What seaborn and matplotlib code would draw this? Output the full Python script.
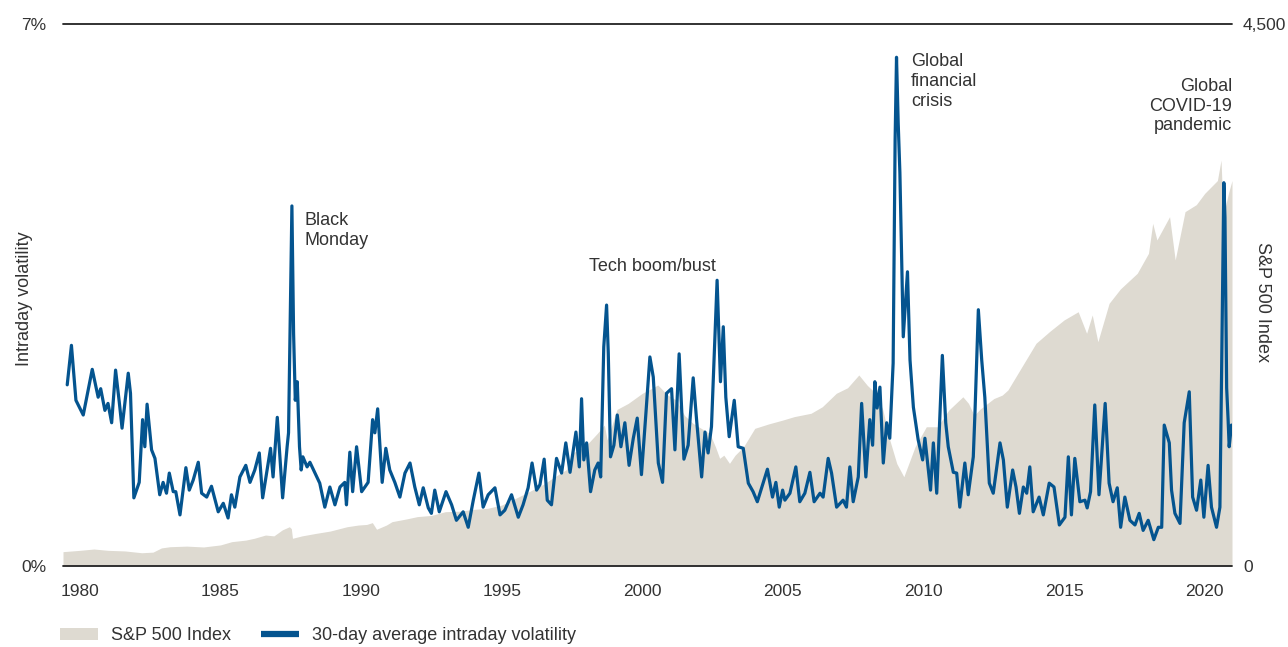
import matplotlib
matplotlib.use("Agg")
import matplotlib.pyplot as plt
import seaborn as sns
from matplotlib.patches import Patch
from matplotlib.lines import Line2D
from matplotlib.ticker import FixedLocator

# ---------------- data ----------------
vol_year = [
    1979.55, 1979.70, 1979.86, 1980.12, 1980.44, 1980.65, 1980.74, 1980.89, 1981.00, 1981.13,
    1981.27, 1981.40, 1981.50, 1981.64, 1981.72, 1981.80, 1981.92, 1982.11, 1982.23, 1982.31,
    1982.39, 1982.55, 1982.67, 1982.84, 1982.96, 1983.08, 1983.18, 1983.32, 1983.41, 1983.56,
    1983.77, 1983.89, 1984.03, 1984.21, 1984.33, 1984.51, 1984.68, 1984.92, 1985.10, 1985.27,
    1985.39, 1985.51, 1985.69, 1985.90, 1986.05, 1986.22, 1986.38, 1986.50, 1986.64, 1986.78,
    1986.87, 1987.02, 1987.21, 1987.37, 1987.42, 1987.48, 1987.54, 1987.60, 1987.64, 1987.66,
    1987.73, 1987.81, 1987.87, 1987.93, 1988.08, 1988.18, 1988.36, 1988.53, 1988.71, 1988.89,
    1989.07, 1989.25, 1989.42, 1989.48, 1989.60, 1989.70, 1989.84, 1990.02, 1990.25, 1990.41,
    1990.49, 1990.59, 1990.75, 1990.88, 1991.02, 1991.20, 1991.38, 1991.56, 1991.74, 1991.91,
    1992.07, 1992.21, 1992.39, 1992.50, 1992.62, 1992.78, 1993.02, 1993.22, 1993.39, 1993.63,
    1993.81, 1993.99, 1994.19, 1994.34, 1994.52, 1994.76, 1994.94, 1995.11, 1995.35, 1995.59,
    1995.76, 1995.94, 1996.08, 1996.24, 1996.36, 1996.51, 1996.62, 1996.77, 1996.95, 1997.13,
    1997.28, 1997.43, 1997.64, 1997.76, 1997.84, 1997.92, 1998.02, 1998.16, 1998.31, 1998.43,
    1998.52, 1998.63, 1998.73, 1998.79, 1998.87, 1998.99, 1999.11, 1999.24, 1999.38, 1999.53,
    1999.68, 1999.82, 1999.97, 2000.13, 2000.27, 2000.39, 2000.57, 2000.72, 2000.86, 2001.04,
    2001.16, 2001.31, 2001.48, 2001.63, 2001.81, 2001.93, 2002.11, 2002.23, 2002.34, 2002.46,
    2002.66, 2002.78, 2002.88, 2002.97, 2003.09, 2003.27, 2003.41, 2003.59, 2003.77, 2003.94,
    2004.09, 2004.28, 2004.45, 2004.63, 2004.75, 2004.87, 2004.99, 2005.07, 2005.25, 2005.46,
    2005.60, 2005.78, 2005.96, 2006.11, 2006.32, 2006.43, 2006.61, 2006.73, 2006.91, 2007.14,
    2007.26, 2007.38, 2007.50, 2007.68, 2007.80, 2007.95, 2008.09, 2008.19, 2008.27, 2008.35,
    2008.45, 2008.57, 2008.69, 2008.80, 2008.92, 2008.99, 2009.04, 2009.10, 2009.16, 2009.28,
    2009.43, 2009.52, 2009.64, 2009.81, 2009.97, 2010.05, 2010.25, 2010.35, 2010.47, 2010.67,
    2010.79, 2010.88, 2011.06, 2011.18, 2011.29, 2011.47, 2011.59, 2011.77, 2011.83, 2011.95,
    2012.07, 2012.18, 2012.34, 2012.48, 2012.72, 2012.84, 2012.98, 2013.17, 2013.29, 2013.41,
    2013.55, 2013.67, 2013.78, 2013.90, 2014.11, 2014.26, 2014.47, 2014.64, 2014.83, 2015.03,
    2015.15, 2015.26, 2015.38, 2015.56, 2015.74, 2015.82, 2015.94, 2016.09, 2016.24, 2016.46,
    2016.60, 2016.74, 2016.89, 2017.01, 2017.16, 2017.34, 2017.52, 2017.67, 2017.81, 2017.99,
    2018.19, 2018.35, 2018.47, 2018.56, 2018.64, 2018.74, 2018.82, 2018.94, 2019.12, 2019.27,
    2019.45, 2019.57, 2019.71, 2019.86, 2019.97, 2020.12, 2020.24, 2020.42, 2020.54, 2020.60,
    2020.68, 2020.72, 2020.78, 2020.83, 2020.87, 2020.95,
]
vol_pct = [
    2.34, 2.85, 2.14, 1.95, 2.54, 2.18, 2.29, 2.01, 2.10, 1.85,
    2.53, 2.12, 1.78, 2.23, 2.49, 2.23, 0.88, 1.08, 1.89, 1.54,
    2.09, 1.50, 1.39, 0.92, 1.08, 0.94, 1.20, 0.96, 0.96, 0.66,
    1.27, 0.98, 1.11, 1.34, 0.94, 0.89, 1.03, 0.70, 0.81, 0.62,
    0.92, 0.76, 1.15, 1.30, 1.08, 1.24, 1.46, 0.88, 1.20, 1.52,
    1.15, 1.92, 0.88, 1.54, 1.72, 3.20, 4.65, 3.00, 2.44, 2.14,
    2.38, 1.54, 1.24, 1.41, 1.28, 1.34, 1.20, 1.07, 0.76, 1.02,
    0.79, 1.02, 1.08, 0.79, 1.47, 0.96, 1.54, 0.96, 1.08, 1.89,
    1.72, 2.03, 1.08, 1.52, 1.24, 1.08, 0.89, 1.20, 1.33, 1.02,
    0.79, 1.01, 0.75, 0.68, 0.98, 0.70, 0.96, 0.79, 0.59, 0.70,
    0.50, 0.85, 1.20, 0.76, 0.92, 1.01, 0.66, 0.72, 0.92, 0.63,
    0.79, 1.01, 1.33, 0.98, 1.05, 1.38, 0.85, 0.79, 1.39, 1.20,
    1.59, 1.21, 1.73, 1.28, 2.16, 1.37, 1.59, 0.96, 1.24, 1.33,
    1.15, 2.83, 3.37, 2.75, 1.41, 1.56, 1.95, 1.54, 1.85, 1.30,
    1.65, 1.91, 1.18, 1.98, 2.70, 2.44, 1.33, 1.08, 2.23, 2.29,
    1.50, 2.74, 1.38, 1.56, 2.43, 1.89, 1.15, 1.73, 1.46, 1.80,
    3.69, 2.38, 3.09, 2.18, 1.67, 2.14, 1.54, 1.52, 1.07, 0.96,
    0.83, 1.05, 1.25, 0.89, 1.08, 0.76, 0.98, 0.85, 0.94, 1.28,
    0.83, 0.94, 1.21, 0.83, 0.94, 0.89, 1.39, 1.20, 0.76, 0.85,
    0.76, 1.28, 0.83, 1.15, 2.10, 1.15, 1.89, 1.56, 2.38, 2.04,
    2.31, 1.33, 1.85, 1.65, 2.62, 5.50, 6.57, 5.72, 5.08, 2.96,
    3.80, 2.66, 2.05, 1.63, 1.37, 1.65, 0.98, 1.59, 0.94, 2.72,
    1.85, 1.54, 1.21, 1.20, 0.76, 1.33, 0.92, 1.41, 1.98, 3.31,
    2.66, 2.18, 1.07, 0.94, 1.59, 1.37, 0.76, 1.24, 1.02, 0.68,
    1.02, 0.94, 1.28, 0.70, 0.89, 0.66, 1.07, 1.02, 0.53, 0.63,
    1.41, 0.66, 1.39, 0.83, 0.85, 0.75, 0.96, 2.08, 0.92, 2.10,
    1.07, 0.83, 1.01, 0.50, 0.89, 0.59, 0.53, 0.68, 0.46, 0.59,
    0.34, 0.50, 0.50, 1.82, 1.72, 1.59, 0.98, 0.68, 0.55, 1.85,
    2.25, 0.89, 0.72, 1.11, 0.63, 1.30, 0.76, 0.50, 0.76, 2.50,
    4.95, 4.50, 2.30, 1.90, 1.54, 1.82,
]

spx_year = [
    1979.40, 1980.00, 1980.50, 1981.00, 1981.60, 1982.20, 1982.60, 1982.90, 1983.20, 1983.80,
    1984.40, 1985.00, 1985.40, 1985.90, 1986.20, 1986.60, 1986.90, 1987.20, 1987.45, 1987.52,
    1987.56, 1987.90, 1988.40, 1988.90, 1989.50, 1989.90, 1990.20, 1990.40, 1990.55, 1990.90,
    1991.10, 1991.60, 1992.00, 1992.50, 1993.00, 1993.50, 1994.00, 1994.50, 1995.00, 1995.50,
    1996.00, 1996.50, 1996.80, 1997.30, 1997.50, 1998.00, 1998.40, 1998.65, 1998.75, 1999.10,
    1999.50, 2000.00, 2000.30, 2000.55, 2000.90, 2001.20, 2001.50, 2001.80, 2002.00, 2002.40,
    2002.60, 2002.75, 2002.90, 2003.10, 2003.30, 2003.60, 2004.00, 2004.50, 2005.00, 2005.40,
    2006.00, 2006.40, 2006.90, 2007.30, 2007.70, 2008.00, 2008.30, 2008.55, 2008.80, 2009.05,
    2009.30, 2009.70, 2010.10, 2010.50, 2010.90, 2011.40, 2011.60, 2011.80, 2012.00, 2012.50,
    2012.80, 2013.00, 2013.50, 2014.00, 2014.50, 2015.00, 2015.50, 2015.80, 2016.00, 2016.20,
    2016.60, 2017.00, 2017.60, 2018.00, 2018.15, 2018.30, 2018.75, 2018.95, 2019.30, 2019.70,
    2020.00, 2020.45, 2020.58, 2020.66, 2020.75, 2020.85, 2020.97,
]
spx_val = [
    119, 130, 141, 130, 125, 110, 115, 150, 160, 165,
    158, 175, 202, 215, 230, 257, 250, 300, 326, 310,
    230, 250, 271, 290, 326, 340, 345, 360, 305, 340,
    368, 390, 410, 420, 451, 455, 470, 479, 506, 562,
    620, 680, 728, 800, 935, 1000, 1101, 1170, 1046, 1300,
    1350, 1434, 1470, 1503, 1420, 1378, 1250, 1185, 1156, 1100,
    990, 894, 920, 852, 920, 990, 1143, 1180, 1212, 1240,
    1268, 1322, 1434, 1480, 1586, 1500, 1434, 1300, 1046, 850,
    741, 990, 1156, 1156, 1295, 1405, 1350, 1250, 1300, 1390,
    1419, 1461, 1655, 1849, 1950, 2043, 2111, 1932, 2084, 1862,
    2181, 2300, 2430, 2596, 2845, 2707, 2900, 2541, 2942, 3000,
    3094, 3200, 3370, 2900, 3000, 3100, 3200,
]

x_ticks = [1980, 1985, 1990, 1995, 2000, 2005, 2010, 2015, 2020]
left_ticks = [0, 7]
left_tick_labels = ["0%", "7%"]
right_ticks = [0, 4500]
right_tick_labels = ["0", "4,500"]

series_labels = ["S&P 500 Index", "30-day average intraday volatility"]
annotations = [
    ("Black\nMonday", 1988.00, 4.57, "left"),
    ("Tech boom/bust", 2000.35, 3.98, "center"),
    ("Global\nfinancial\ncrisis", 2009.55, 6.62, "left"),
    ("Global\nCOVID-19\npandemic", 2020.98, 6.30, "right"),
]

# ---------------- style ----------------
AREA = "#dedad1"
BLUE = "#04548f"
TEXT = "#333333"

sns.set_theme(style="white")
plt.rcParams["font.family"] = ["Liberation Sans", "DejaVu Sans"]
plt.rcParams["text.color"] = TEXT
plt.rcParams["axes.labelcolor"] = TEXT
plt.rcParams["xtick.color"] = TEXT
plt.rcParams["ytick.color"] = TEXT

fig = plt.figure(figsize=(12.88, 6.47), dpi=100)
ax = fig.add_axes([63 / 1288, 81 / 647, (1232 - 63) / 1288, (566 - 24) / 647])
ax2 = ax.twinx()

# area (S&P) on the right axis, drawn below the line axis
ax2.fill_between(spx_year, spx_val, 0, color=AREA, linewidth=0)
ax2.set_ylim(0, 4500)

ax.set_zorder(ax2.get_zorder() + 1)
ax.patch.set_visible(False)

sns.lineplot(x=vol_year, y=vol_pct, ax=ax, color=BLUE, linewidth=2.3,
             estimator=None, sort=False, legend=False)
ax.set_ylim(0, 7)
ax.set_xlim(1979.40, 2020.97)

for a in (ax, ax2):
    for s in ("left", "right"):
        a.spines[s].set_visible(False)
    a.spines["top"].set_visible(False)
    a.spines["bottom"].set_visible(False)

ax.axhline(7, color="#222222", linewidth=1.3, zorder=5, clip_on=False)
ax.axhline(0, color="#222222", linewidth=1.3, zorder=5, clip_on=False)

ax.xaxis.set_major_locator(FixedLocator(x_ticks))
ax.set_xticklabels([str(t) for t in x_ticks])
ax.set_yticks(left_ticks)
ax.set_yticklabels(left_tick_labels)
ax2.set_yticks(right_ticks)
ax2.set_yticklabels(right_tick_labels)

ax.tick_params(axis="x", length=0, pad=13, labelsize=12.5, colors=TEXT)
ax.tick_params(axis="y", length=0, pad=12, labelsize=12.5, colors=TEXT)
ax2.tick_params(axis="y", length=0, pad=8, labelsize=12.5, colors=TEXT)
ax.set_xlabel("")
ax.set_ylabel("")
ax2.set_ylabel("")

fig.text(25 / 1288, (647 - 299) / 647, "Intraday volatility", rotation=90,
         ha="center", va="center", fontsize=13, color=TEXT)
fig.text(1262 / 1288, (647 - 302) / 647, "S&P 500 Index", rotation=270,
         ha="center", va="center", fontsize=13, color=TEXT)

for txt, xx, yy, ha in annotations:
    ax.text(xx, yy, txt, ha=ha, va="top", fontsize=13, color=TEXT,
            multialignment=ha if ha != "center" else "center", linespacing=1.2)

handles = [Patch(facecolor=AREA, edgecolor="none"),
           Line2D([0], [0], color=BLUE, linewidth=4.5, solid_capstyle="butt")]
fig.legend(handles, series_labels, loc="center left",
           bbox_to_anchor=(60 / 1288, (647 - 636) / 647), ncol=2, frameon=False,
           fontsize=13, handlelength=2.1, handleheight=0.6, handletextpad=0.7,
           columnspacing=1.7, borderaxespad=0, borderpad=0)

fig.savefig("out.png", dpi=100)
